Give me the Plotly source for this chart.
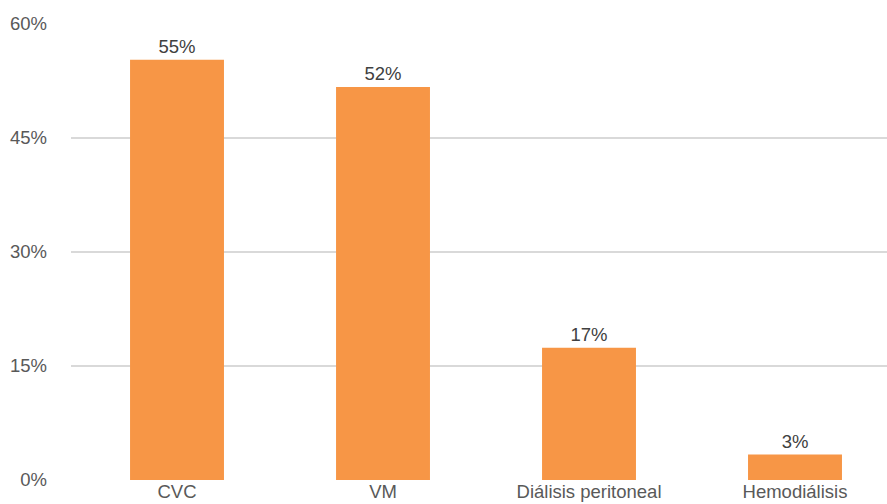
import plotly.graph_objects as go

categories = ["CVC", "VM", "Diálisis peritoneal", "Hemodiálisis"]
values = [55.3, 51.7, 17.4, 3.35]
labels = ["55%", "52%", "17%", "3%"]
tick_vals = [0, 15, 30, 45, 60]
tick_text = ["0%", "15%", "30%", "45%", "60%"]

fig = go.Figure(go.Bar(
    x=list(range(len(categories))), y=values,
    text=labels, textposition="outside", cliponaxis=False,
    marker=dict(color="#F79646", line=dict(width=0)),
    width=0.456,
    textfont=dict(family="Liberation Sans, Arial", size=18.5, color="#404040"),
))
fig.update_layout(
    width=887, height=504,
    margin=dict(l=71, r=0, t=24, b=24),
    paper_bgcolor="white", plot_bgcolor="white",
    showlegend=False,
    font=dict(family="Liberation Sans, Arial", size=18.5, color="#595959"),
    xaxis=dict(tickvals=list(range(len(categories))), ticktext=categories,
               range=[-0.5146, 3.4466], showgrid=False, zeroline=False,
               showline=False, ticks="", ticklabelstandoff=-2,
               tickfont=dict(size=18.5, color="#595959")),
    yaxis=dict(range=[0, 60], tickvals=tick_vals, ticktext=tick_text,
               showgrid=True, gridcolor="#D9D9D9", gridwidth=1.8,
               zeroline=False, showline=False, ticks="",
               ticklabelstandoff=23, tickfont=dict(size=18.5, color="#595959")),
)
fig.write_html("out.html")
